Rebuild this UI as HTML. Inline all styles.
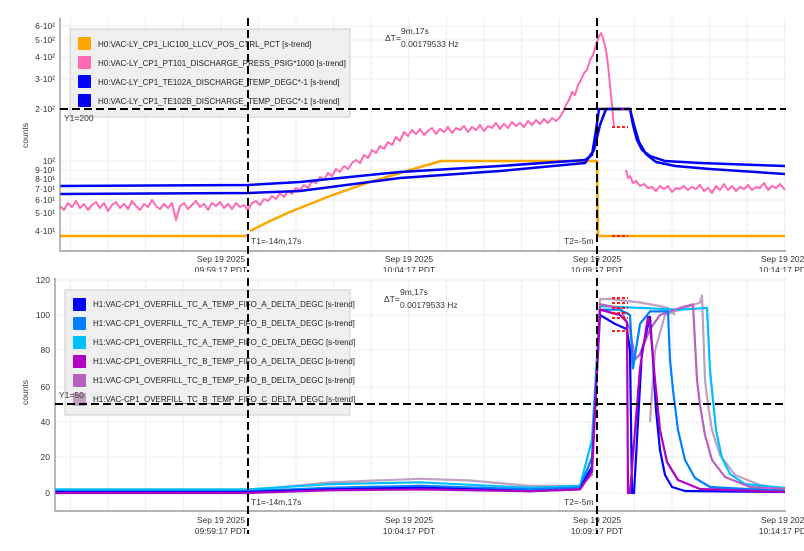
<!DOCTYPE html>
<html><head><meta charset="utf-8"><style>
body{margin:0;background:#fff}
svg{display:block;font-family:"Liberation Sans",sans-serif}
</style></head><body>
<svg width="804" height="551" viewBox="0 0 804 551" xmlns="http://www.w3.org/2000/svg">
<defs>
<clipPath id="c1"><rect x="0" y="0" width="804" height="272"/></clipPath>
<clipPath id="p1"><rect x="60" y="18" width="726" height="233"/></clipPath>
<clipPath id="p2"><rect x="55" y="278" width="731" height="233"/></clipPath>
<clipPath id="c2"><rect x="0" y="272" width="804" height="262"/></clipPath>
</defs>
<rect width="804" height="551" fill="#fff"/>
<g stroke="#ececec" stroke-width="1" fill="none">
<path d="M70.4 18V251M108 18V251M145.6 18V251M183.2 18V251M220.8 18V251M258.4 18V251M296 18V251M333.6 18V251M371.2 18V251M408.8 18V251M446.4 18V251M484 18V251M521.6 18V251M559.2 18V251M596.8 18V251M634.4 18V251M672 18V251M709.6 18V251M747.2 18V251M784.8 18V251"/>
<path d="M70.4 278V511M108 278V511M145.6 278V511M183.2 278V511M220.8 278V511M258.4 278V511M296 278V511M333.6 278V511M371.2 278V511M408.8 278V511M446.4 278V511M484 278V511M521.6 278V511M559.2 278V511M596.8 278V511M634.4 278V511M672 278V511M709.6 278V511M747.2 278V511M784.8 278V511"/>
<path d="M60 26H786M60 40H786M60 57H786M60 79H786M60 109H786M60 161H786M60 170H786M60 179H786M60 189H786M60 200H786M60 213H786M60 231H786"/>
<path d="M55 280H786M55 315H786M55 350H786M55 387H786M55 422H786M55 457H786M55 493H786"/>
</g>
<g fill="none" stroke-linejoin="round">
<g clip-path="url(#p1)">
<path stroke="#ff69b4" stroke-width="2" d="M60 206L64 210L68 203L72 207L76 201L80 208L84 204L88 210L92 205L96 202L100 208L104 203L108 211L112 205L116 202L120 208L124 204L128 209L132 201L136 206L140 210L144 204L148 207L152 200L156 206L160 209L164 204L168 208L172 203L176 220L180 206L184 203L188 209L192 205L196 201L200 207L204 204L208 210L212 203L216 206L220 202L224 208L228 204L232 209L236 203L240 207L244 205L248 210L252 203L256 201L260 205L264 199L268 201L272 196L276 199L280 193L284 197L288 191L292 194L296 188L300 190L304 185L308 188L312 181L316 183L320 177L324 180L328 173L332 176L336 169L340 172L344 166L348 169L352 163L356 160L360 163L364 155L368 158L372 150L376 153L380 146L384 149L388 142L392 145L396 137L400 141L404 132L408 136L412 130L416 134L420 129L424 135L428 131L432 128L436 134L440 129L444 132L448 127L452 133L456 128L460 130L464 126L468 132L472 127L476 130L480 125L484 131L488 126L492 128L496 123L500 129L504 124L508 128L512 122L516 126L520 123L524 127L528 121L532 125L536 120L540 124L544 119L548 123L552 118L556 121L560 117L563 112L566 105L569 100L572 92L575 95L578 85L581 80L584 73L587 70L590 60L593 55L596 45L599 36L601 33L603 38L606 50L608 65L610 85L612 105L614 126"/>
<path stroke="#ff69b4" stroke-width="2" d="M626 170L628 178L630 176L633 183L636 181L640 186L644 184L648 188L652 187L656 191L660 186L664 189L668 186L672 192L676 188L680 189L684 186L688 190L692 187L696 189L700 185L704 191L708 188L712 193L716 186L720 190L724 184L728 190L732 186L736 191L740 187L744 189L748 185L752 190L756 187L760 188L764 183L768 190L772 186L776 188L780 184L785 190"/>
<path stroke="#ffa500" stroke-width="2.5" d="M60 236H248M250 231L270 221L290 212L310 204L330 196L350 189L370 182L390 176L410 170L441 161L597 161L598 236L785 236"/>
<path stroke="#0000ff" stroke-width="2.5" d="M60 186L248 185L300 182L400 172L500 166L585 160L592 155L596 130L599 109L630 109L633 125L637 140L642 150L650 156L665 161L700 163L785 166"/>
<path stroke="#0000ee" stroke-width="2.5" d="M60 194L248 193L300 191L400 178L500 171L585 163L594 150L600 125L606 109L630 109L634 125L639 142L646 154L656 162L675 166L710 169L785 174"/>
<path stroke="#ff0000" stroke-width="1.8" stroke-dasharray="3,2" d="M612 109H628M612 127H628M612 236H628"/>
</g>
<g clip-path="url(#p2)" stroke-width="2.2">
<path stroke="#c0a0c0" d="M55 490.3L248 490.3L330 482.3L420 478.8L470 480.5L530 485.9L580 485.9L592 475.2L600 299L610 299L640 302.5L660 306.1L668 307.9L675 315M650 421.8L655 350.6L665 315L700 302.5L702 295.4L705 380L708 405L712 430L720 455L735 475L760 485L785 489"/>
<path stroke="#00bfff" d="M55 489.4L248 489.4L330 484.1L420 482.3L530 487.7L580 485.9L592 439.6L600 306.1L640 307.9L680 309.7L707 307.9L710 370L712 390L716 430L722 458L730 474L745 484L785 488"/>
<path stroke="#b860c0" d="M55 492L248 492L330 489.4L420 485.9L530 489.4L580 487.7L592 468L600 304.3L620 307.9L630 329.2L635 359.5L640 354.2L650 329.2L660 315L680 307.9L693 304.3L697 380L700 405L705 435L712 460L725 477L750 487L785 489"/>
<path stroke="#0080ff" d="M55 491.2L248 491.2L330 487.7L420 485.9L530 489.4L580 487.7L592 457.4L600 309.7L620 309.7L630 315L633 368.4L640 323.9L650 311.4L668 311.4L670 360L673 390L678 430L685 460L695 478L710 487L785 491"/>
<path stroke="#0000ff" d="M55 492L248 492L330 489.4L420 487.7L530 491.2L580 489.4L592 466.3L600 315L615 323.9L627 329.2L630 350.6L632 493L634 493L642 350.6L650 316.8L653 360L656 410L660 450L665 475L672 487L685 491L785 492"/>
<path stroke="#b000c0" d="M55 493L248 493L330 490.3L420 489.4L530 491.2L580 489.4L592 471.6L600 309.7L620 315L627 322.1L628 493L630 493L640 368.4L648 316.8L650 323.9L655 380L660 430L667 462L678 480L700 489L785 492"/>
<path stroke="#ff0000" stroke-width="1.8" stroke-dasharray="3,2" d="M612 298H628M612 303H628M612 308H628M612 313H628M612 318H628M612 331H628"/>
</g>
</g>
<g stroke="#888" stroke-width="1.2" fill="none">
<path d="M60 18V251H786"/>
<path d="M55 278V511H786"/>
</g>
<g>
<rect x="70" y="29" width="280" height="88" fill="#eee" fill-opacity="0.92" stroke="#ccc"/>
<rect x="78" y="37" width="13" height="13" rx="1" fill="#ffa500"/>
<rect x="78" y="56" width="13" height="13" rx="1" fill="#ff69b4"/>
<rect x="78" y="75" width="13" height="13" rx="1" fill="#0000ff"/>
<rect x="78" y="94" width="13" height="13" rx="1" fill="#0000ee"/>
<g font-size="8" fill="#222">
<text x="98" y="47">H0:VAC-LY_CP1_LIC100_LLCV_POS_CTRL_PCT [s-trend]</text>
<text x="98" y="66">H0:VAC-LY_CP1_PT101_DISCHARGE_PRESS_PSIG*1000 [s-trend]</text>
<text x="98" y="85">H0:VAC-LY_CP1_TE102A_DISCHARGE_TEMP_DEGC*-1 [s-trend]</text>
<text x="98" y="104">H0:VAC-LY_CP1_TE102B_DISCHARGE_TEMP_DEGC*-1 [s-trend]</text>
</g>
<rect x="65" y="290" width="285" height="125" fill="#eee" fill-opacity="0.92" stroke="#ccc"/>
<rect x="73" y="298" width="13" height="13" rx="1" fill="#0000ff"/>
<rect x="73" y="317" width="13" height="13" rx="1" fill="#0080ff"/>
<rect x="73" y="336" width="13" height="13" rx="1" fill="#00bfff"/>
<rect x="73" y="355" width="13" height="13" rx="1" fill="#b000c0"/>
<rect x="73" y="374" width="13" height="13" rx="1" fill="#b860c0"/>
<rect x="73" y="393" width="13" height="13" rx="1" fill="#c0a0c0"/>
<g font-size="8" fill="#222">
<text x="93" y="307">H1:VAC-CP1_OVERFILL_TC_A_TEMP_FIFO_A_DELTA_DEGC [s-trend]</text>
<text x="93" y="326">H1:VAC-CP1_OVERFILL_TC_A_TEMP_FIFO_B_DELTA_DEGC [s-trend]</text>
<text x="93" y="345">H1:VAC-CP1_OVERFILL_TC_A_TEMP_FIFO_C_DELTA_DEGC [s-trend]</text>
<text x="93" y="364">H1:VAC-CP1_OVERFILL_TC_B_TEMP_FIFO_A_DELTA_DEGC [s-trend]</text>
<text x="93" y="383">H1:VAC-CP1_OVERFILL_TC_B_TEMP_FIFO_B_DELTA_DEGC [s-trend]</text>
<text x="93" y="402">H1:VAC-CP1_OVERFILL_TC_B_TEMP_FIFO_C_DELTA_DEGC [s-trend]</text>
</g>
</g>
<g stroke="#000" stroke-width="2" stroke-dasharray="8,4" fill="none">
<path d="M248 18V272M597 18V272M248 278V534M597 278V534"/>
<path d="M60 109H786M55 404H786"/>
</g>
<g font-size="8.5" fill="#333">
<g clip-path="url(#c1)" text-anchor="middle">
<text x="221" y="262">Sep 19 2025</text><text x="221" y="273">09:59:17 PDT</text>
<text x="409" y="262">Sep 19 2025</text><text x="409" y="273">10:04:17 PDT</text>
<text x="597" y="262">Sep 19 2025</text><text x="597" y="273">10:09:17 PDT</text>
<text x="785" y="262">Sep 19 2025</text><text x="785" y="273">10:14:17 PDT</text>
</g>
<g clip-path="url(#c2)" text-anchor="middle">
<text x="221" y="523">Sep 19 2025</text><text x="221" y="534">09:59:17 PDT</text>
<text x="409" y="523">Sep 19 2025</text><text x="409" y="534">10:04:17 PDT</text>
<text x="597" y="523">Sep 19 2025</text><text x="597" y="534">10:09:17 PDT</text>
<text x="785" y="523">Sep 19 2025</text><text x="785" y="534">10:14:17 PDT</text>
</g>
<g text-anchor="end">
<text x="55" y="29">6·10²</text><text x="55" y="43">5·10²</text><text x="55" y="60">4·10²</text>
<text x="55" y="82">3·10²</text><text x="55" y="112">2·10²</text><text x="55" y="164">10²</text>
<text x="55" y="173">9·10¹</text><text x="55" y="182">8·10¹</text><text x="55" y="192">7·10¹</text>
<text x="55" y="203">6·10¹</text><text x="55" y="216">5·10¹</text><text x="55" y="234">4·10¹</text>
<text x="50" y="283">120</text><text x="50" y="318">100</text><text x="50" y="353">80</text>
<text x="50" y="390">60</text><text x="50" y="425">40</text><text x="50" y="460">20</text><text x="50" y="496">0</text>
</g>
<text transform="translate(28,148) rotate(-90)">counts</text>
<text transform="translate(28,405) rotate(-90)">counts</text>
<text x="251" y="244">T1=-14m,17s</text><text x="564" y="244">T2=-5m</text>
<text x="251" y="505">T1=-14m,17s</text><text x="564" y="505">T2=-5m</text>
<text x="385" y="41">ΔT=</text><text x="401" y="34">9m,17s</text><text x="401" y="47">0.00179533 Hz</text>
<text x="384" y="302">ΔT=</text><text x="400" y="295">9m,17s</text><text x="400" y="308">0.00179533 Hz</text>
<text x="64" y="121">Y1=200</text>
<text x="59" y="398">Y1=50</text>
</g>
</svg>
</body></html>
